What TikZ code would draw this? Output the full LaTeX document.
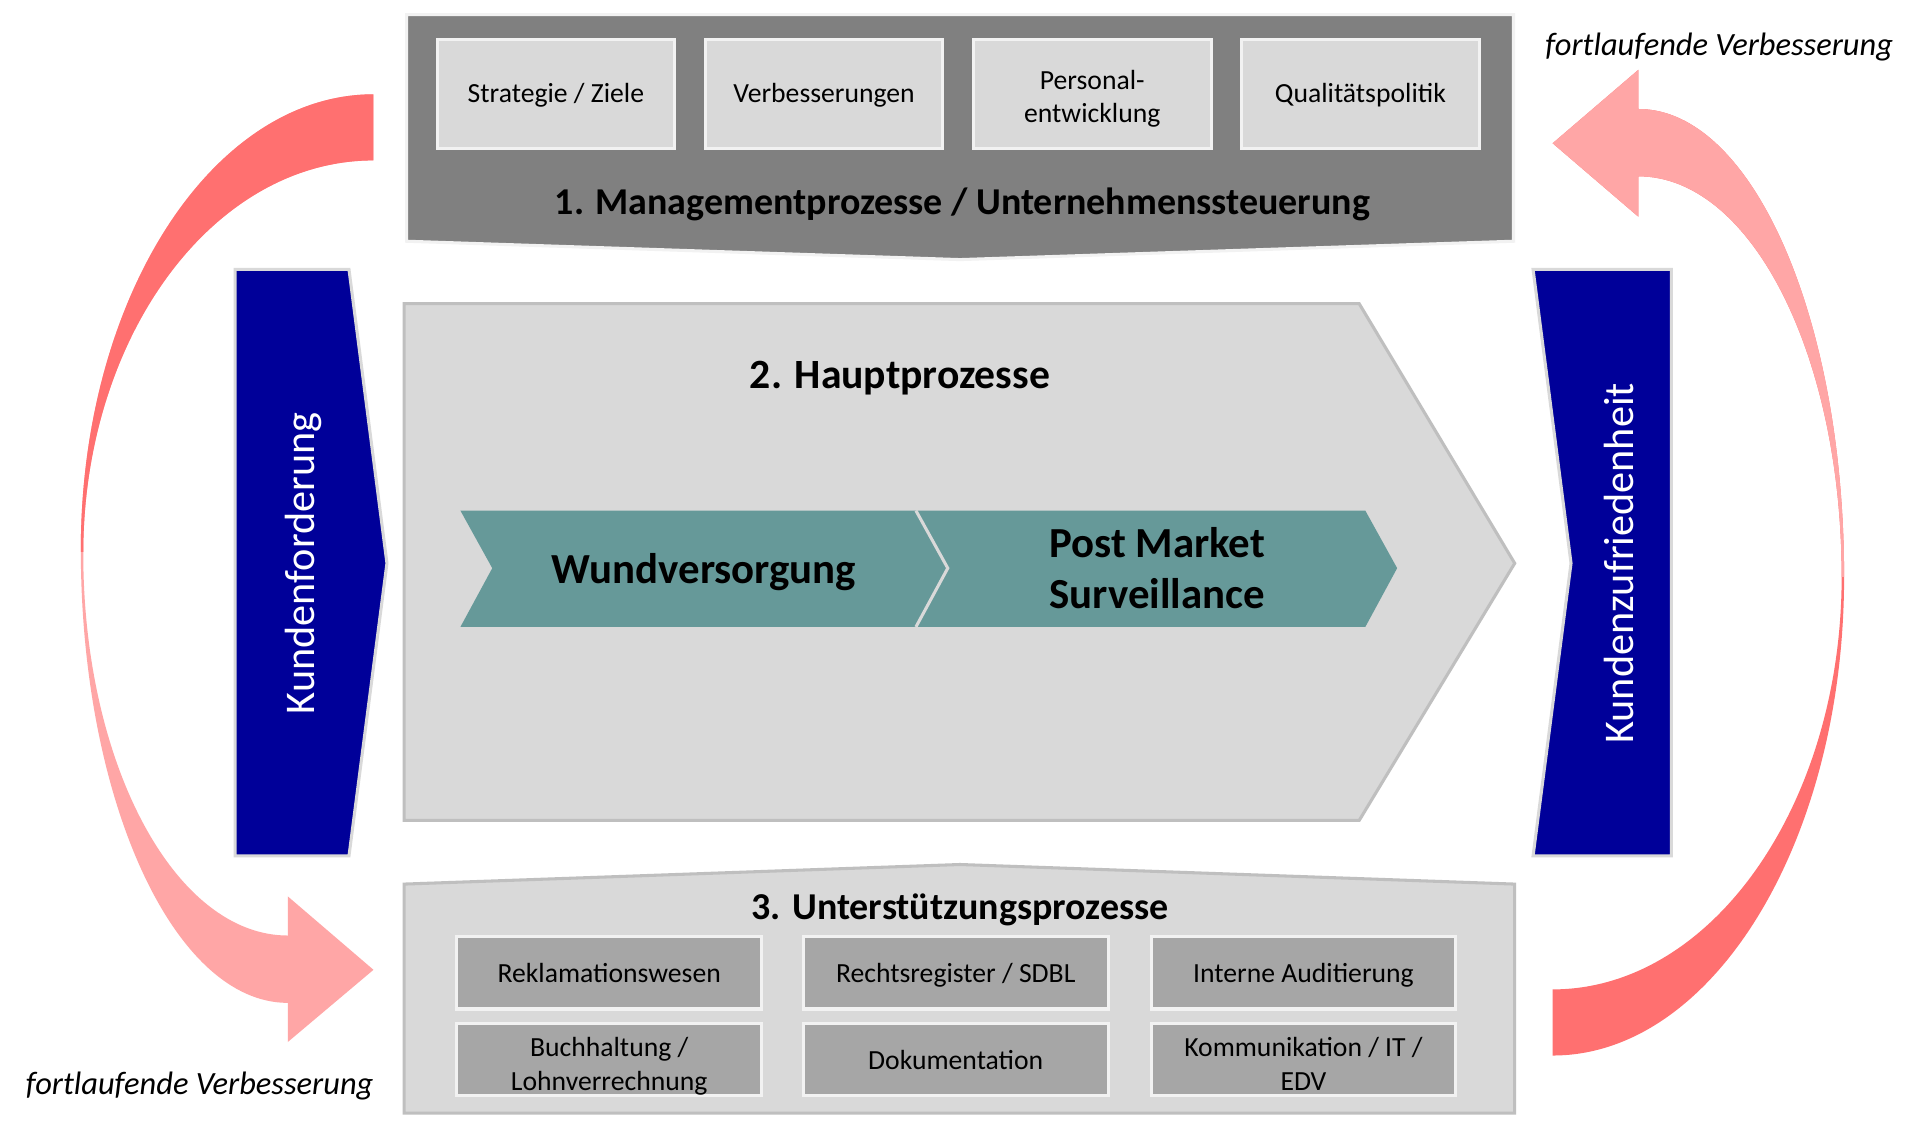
\documentclass[tikz,border=0pt]{standalone}
\usepackage{fontspec}
\setmainfont{Carlito}
\definecolor{mgmtgray}{HTML}{808080}
\definecolor{boxlight}{HTML}{D9D9D9}
\definecolor{boxmid}{HTML}{A6A6A6}
\definecolor{edgelight}{HTML}{F2F2F2}
\definecolor{edgegray}{HTML}{BFBFBF}
\definecolor{tealbox}{HTML}{669999}
\definecolor{navy}{HTML}{000099}
\definecolor{arrowred}{HTML}{FF7070}
\definecolor{arrowpink}{HTML}{FFA6A6}
\newcommand\mytopstrut{\rule[-4.8pt]{0pt}{24pt}}
\newcommand\mybotstrut{\rule[-4.8pt]{0pt}{26pt}}
\newcommand\mytoptall{\rule{0pt}{25.5pt}}
\newcommand\mybottall{\rule{0pt}{27.5pt}}
\tikzset{
  topitem/.style={draw=edgelight, line width=2.5pt, fill=boxlight, minimum width=194pt, minimum height=89pt, inner sep=0pt, align=center, font=\fontsize{22.6}{27}\selectfont, execute at begin node=\mytopstrut},
  botitem/.style={draw=edgelight, line width=2.5pt, fill=boxmid, minimum width=249pt, minimum height=59pt, inner sep=0pt, align=center, font=\fontsize{22.6}{28}\selectfont, execute at begin node=\mybotstrut},
  botitemtwo/.style={botitem, inner ysep=-4pt},
  sectitle/.style={inner sep=0pt, font=\bfseries\fontsize{31}{36}\selectfont},
  chevtext/.style={inner sep=0pt, align=center, font=\bfseries\fontsize{35}{42}\selectfont},
  bluetext/.style={inner sep=0pt, text=white, rotate=90, font=\fontsize{34.5}{40}\selectfont},
  looptext/.style={inner sep=0pt, font=\itshape\fontsize{26.5}{30}\selectfont}
}
\begin{document}
\begin{tikzpicture}[x=1pt,y=-1pt]
\useasboundingbox (0,0) rectangle (1568,924);
\fill[white] (0,0) rectangle (1568,924);

% left loop arrow (red top, pink bottom)
\fill[arrowpink] (305,77) .. controls (173,77) and (66,244) .. (66,449) .. controls (66,653) and (142,819) .. (235,819) -- (235,851) -- (305,792) -- (235,732) -- (235,764) .. controls (143,764) and (68,624) .. (68,452) .. controls (68,275) and (174,131) .. (305,131) -- cycle;
\begin{scope}
\clip (0,0) rectangle (400,450);
\fill[arrowred] (305,77) .. controls (173,77) and (66,244) .. (66,449) .. controls (66,653) and (142,819) .. (235,819) -- (235,851) -- (305,792) -- (235,732) -- (235,764) .. controls (143,764) and (68,624) .. (68,452) .. controls (68,275) and (174,131) .. (305,131) -- cycle;
\end{scope}

% right loop arrow (pink top, red bottom)
\fill[arrowred] (1268,862) .. controls (1399,862) and (1506,687) .. (1506,471) .. controls (1506,260) and (1431,89) .. (1338,89) -- (1338,57) -- (1268,117) -- (1338,177) -- (1338,144) .. controls (1430,144) and (1504,290) .. (1504,471) .. controls (1504,657) and (1398,808) .. (1268,808) -- cycle;
\begin{scope}
\clip (1200,0) rectangle (1568,471);
\fill[arrowpink] (1268,862) .. controls (1399,862) and (1506,687) .. (1506,471) .. controls (1506,260) and (1431,89) .. (1338,89) -- (1338,57) -- (1268,117) -- (1338,177) -- (1338,144) .. controls (1430,144) and (1504,290) .. (1504,471) .. controls (1504,657) and (1398,808) .. (1268,808) -- cycle;
\end{scope}

\node[looptext] (loopR) at (1404,38) {fortlaufende Verbesserung};
\node[looptext] (loopL) at (163,887) {fortlaufende Verbesserung};

% 1. management
\draw[fill=mgmtgray, draw=edgelight, line width=2.5pt] (332,12) -- (1236,12) -- (1236,197) -- (784,212) -- (332,197) -- cycle;
\node[topitem] (m1) at (454,76.5) {Strategie / Ziele};
\node[topitem] (m2) at (673,76.5) {Verbesserungen};
\node[topitem] (m3) at (892,76.5) {\mytoptall Personal-\\entwicklung\mytopstrut};
\node[topitem] (m4) at (1111,76.5) {Qualitätspolitik};
\node[sectitle] (t1) at (786,167) {1. Managementprozesse / Unternehmenssteuerung};

% 2. main processes
\draw[fill=boxlight, draw=edgegray, line width=2.5pt] (330,248) -- (1110,248) -- (1237,460) -- (1110,670) -- (330,670) -- cycle;
\node[inner sep=0pt, font=\bfseries\fontsize{34}{40}\selectfont] (t2) at (735,309) {2. Hauptprozesse};
\fill[tealbox] (376,417) -- (748,417) -- (774,464) -- (748,512) -- (376,512) -- (402,464) -- cycle;
\fill[tealbox] (748,417) -- (1115,417) -- (1141,464) -- (1115,512) -- (748,512) -- (774,464) -- cycle;
\draw[draw=boxlight, line width=2.5pt] (748,417) -- (774,464) -- (748,512);
\node[chevtext] (c1) at (575,467) {Wundversorgung};
\node[chevtext] (c2) at (945,464) {Post Market\\Surveillance};

% customer boxes
\draw[fill=navy, draw=boxlight, line width=2.5pt] (192,220) -- (285,220) -- (316,460) -- (285,699) -- (192,699) -- cycle;
\node[bluetext] (kf) at (248,460) {Kundenforderung};
\draw[fill=navy, draw=boxlight, line width=2.5pt] (1252,220) -- (1365,220) -- (1365,699) -- (1252,699) -- (1283,460) -- cycle;
\node[bluetext] (kz) at (1322,460) {Kundenzufriedenheit};

% 3. support processes
\draw[fill=boxlight, draw=edgegray, line width=2.5pt] (330,722) -- (784,706) -- (1237,722) -- (1237,909) -- (330,909) -- cycle;
\node[sectitle] (t3) at (784,743) {3. Unterstützungsprozesse};
\node[botitem] (s1) at (497.5,794.5) {Reklamationswesen};
\node[botitem] (s2) at (780.5,794.5) {Rechtsregister / SDBL};
\node[botitem] (s3) at (1064.5,794.5) {Interne Auditierung};
\node[botitemtwo] (s4) at (497.5,865.5) {\mybottall Buchhaltung /\\Lohnverrechnung\mybotstrut};
\node[botitem] (s5) at (780.5,865.5) {Dokumentation};
\node[botitemtwo] (s6) at (1064.5,865.5) {\mybottall Kommunikation / IT /\\EDV\mybotstrut};
\end{tikzpicture}
\end{document}
